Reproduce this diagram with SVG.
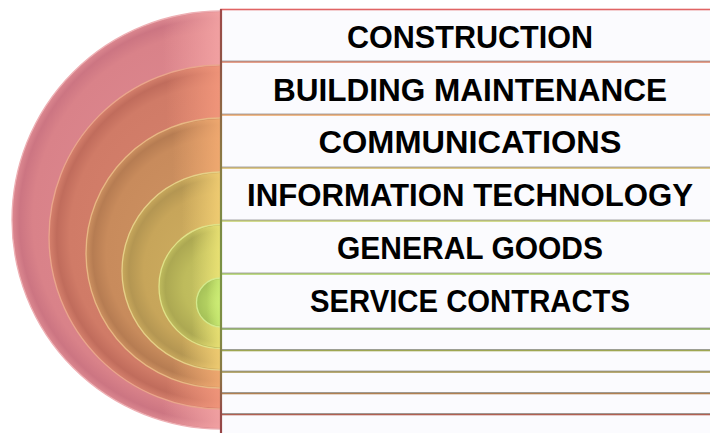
<svg xmlns="http://www.w3.org/2000/svg" width="710" height="433" viewBox="0 0 710 433">
<defs>
<style>
.row{fill:#fbfbfe;stroke-width:1.6}
.sh{stroke:#8e8e8e;stroke-width:1.2;opacity:.75}
.lbl{font-family:"Liberation Sans",Arial,sans-serif;font-weight:bold;font-size:32px;fill:#000;text-anchor:middle}
.disc{stroke-width:1.3}
</style>
<radialGradient id="g1"><stop offset="0" stop-color="#e08d96"/><stop offset="0.9" stop-color="#d98289"/><stop offset="0.965" stop-color="#cc7582"/><stop offset="1" stop-color="#dc8890"/></radialGradient>
<radialGradient id="g2"><stop offset="0" stop-color="#d88470"/><stop offset="0.88" stop-color="#d07b67"/><stop offset="0.955" stop-color="#c06c5c"/><stop offset="1" stop-color="#d5806c"/></radialGradient>
<radialGradient id="g3"><stop offset="0" stop-color="#d09464"/><stop offset="0.85" stop-color="#c88b5c"/><stop offset="0.95" stop-color="#b67c52"/><stop offset="1" stop-color="#cc9060"/></radialGradient>
<radialGradient id="g4"><stop offset="0" stop-color="#d0b062"/><stop offset="0.78" stop-color="#c7a55a"/><stop offset="0.93" stop-color="#b49652"/><stop offset="1" stop-color="#c8a85c"/></radialGradient>
<radialGradient id="g5"><stop offset="0" stop-color="#c8c466"/><stop offset="0.6" stop-color="#bebb5c"/><stop offset="0.9" stop-color="#aca852"/><stop offset="1" stop-color="#c0bc5e"/></radialGradient>
<radialGradient id="g6"><stop offset="0" stop-color="#c6e270"/><stop offset="0.6" stop-color="#b2cf60"/><stop offset="1" stop-color="#a4c058"/></radialGradient>
<linearGradient id="h1" x1="0" x2="1"><stop offset="0.36" stop-color="#f4a4a4" stop-opacity="0"/><stop offset="0.5" stop-color="#f4a4a4" stop-opacity="0.9"/></linearGradient>
<linearGradient id="h2" x1="0" x2="1"><stop offset="0.34" stop-color="#f4987c" stop-opacity="0"/><stop offset="0.5" stop-color="#f4987c" stop-opacity="0.9"/></linearGradient>
<linearGradient id="h3" x1="0" x2="1"><stop offset="0.32" stop-color="#f4ac72" stop-opacity="0"/><stop offset="0.5" stop-color="#f4ac72" stop-opacity="0.9"/></linearGradient>
<linearGradient id="h4" x1="0" x2="1"><stop offset="0.3" stop-color="#f4d074" stop-opacity="0"/><stop offset="0.5" stop-color="#f4d074" stop-opacity="0.9"/></linearGradient>
<linearGradient id="h5" x1="0" x2="1"><stop offset="0.26" stop-color="#eee676" stop-opacity="0"/><stop offset="0.5" stop-color="#eee676" stop-opacity="0.9"/></linearGradient>
<linearGradient id="h6" x1="0" x2="1"><stop offset="0.2" stop-color="#cef076" stop-opacity="0"/><stop offset="0.5" stop-color="#cef076" stop-opacity="0.9"/></linearGradient>
<linearGradient id="vline" gradientUnits="userSpaceOnUse" x1="0" y1="9" x2="0" y2="433">
<stop offset="0" stop-color="#a04a4a"/>
<stop offset="0.13" stop-color="#8e5444"/>
<stop offset="0.25" stop-color="#8e6a44"/>
<stop offset="0.37" stop-color="#8a7c44"/>
<stop offset="0.5" stop-color="#7c8a44"/>
<stop offset="0.63" stop-color="#7a9244"/>
<stop offset="0.75" stop-color="#7e8c44"/>
<stop offset="0.85" stop-color="#8a7a44"/>
<stop offset="0.95" stop-color="#944c48"/>
<stop offset="1" stop-color="#964446"/>
</linearGradient>
</defs>
<rect width="710" height="433" fill="#fff"/>
<g id="rings">
<g id="ring1"><circle class="disc" cx="221" cy="220" r="209" fill="url(#g1)" stroke="#eeb0b4"/><circle cx="221" cy="220" r="208" fill="url(#h1)"/></g>
<g id="ring2"><circle class="disc" cx="221" cy="237" r="172" fill="url(#g2)" stroke="#eaa68c"/><circle cx="221" cy="237" r="171" fill="url(#h2)"/></g>
<g id="ring3"><circle class="disc" cx="221" cy="253" r="135" fill="url(#g3)" stroke="#e8b884"/><circle cx="221" cy="253" r="134" fill="url(#h3)"/></g>
<g id="ring4"><circle class="disc" cx="221" cy="271" r="99" fill="url(#g4)" stroke="#e6d088"/><circle cx="221" cy="271" r="98" fill="url(#h4)"/></g>
<g id="ring5"><circle class="disc" cx="221" cy="286.5" r="62" fill="url(#g5)" stroke="#e0e288"/><circle cx="221" cy="286.5" r="61" fill="url(#h5)"/></g>
<g id="ring6"><circle class="disc" cx="221" cy="302.5" r="24.5" fill="url(#g6)" stroke="#d4ea8c"/><circle cx="221" cy="302.5" r="23.5" fill="url(#h6)"/></g>
</g>
<g id="rows">
<g id="row-construction"><rect class="row" x="221" y="9.5" width="520" height="52.5" stroke="#e06464"/><text class="lbl" x="470" y="48" textLength="246" lengthAdjust="spacingAndGlyphs">CONSTRUCTION</text></g>
<g id="row-building"><rect class="row" x="221" y="62" width="520" height="53" stroke="#e08a70"/><line class="sh" x1="221" y1="61" x2="741" y2="61"/><text class="lbl" x="470" y="100.7" textLength="394" lengthAdjust="spacingAndGlyphs">BUILDING MAINTENANCE</text></g>
<g id="row-communications"><rect class="row" x="221" y="115" width="520" height="53" stroke="#eeaa6c"/><line class="sh" x1="221" y1="114" x2="741" y2="114"/><text class="lbl" x="470" y="153.4" textLength="303" lengthAdjust="spacingAndGlyphs">COMMUNICATIONS</text></g>
<g id="row-it"><rect class="row" x="221" y="168" width="520" height="53" stroke="#d8c070"/><line class="sh" x1="221" y1="167" x2="741" y2="167"/><text class="lbl" x="470" y="206.3" textLength="446" lengthAdjust="spacingAndGlyphs">INFORMATION TECHNOLOGY</text></g>
<g id="row-general"><rect class="row" x="221" y="221" width="520" height="53" stroke="#c8d474"/><line class="sh" x1="221" y1="220" x2="741" y2="220"/><text class="lbl" x="470" y="259" textLength="266" lengthAdjust="spacingAndGlyphs">GENERAL GOODS</text></g>
<g id="row-service"><rect class="row" x="221" y="274" width="520" height="55" stroke="#b0d46a"/><line class="sh" x1="221" y1="273" x2="741" y2="273"/><text class="lbl" x="470" y="311.6" textLength="320" lengthAdjust="spacingAndGlyphs">SERVICE CONTRACTS</text></g>
<g id="row-7"><rect class="row" x="221" y="329" width="520" height="21.5" stroke="#8eb060"/><line class="sh" x1="221" y1="328" x2="741" y2="328"/></g>
<g id="row-8"><rect class="row" x="221" y="350.5" width="520" height="21.5" stroke="#9ea652"/><line class="sh" x1="221" y1="349.5" x2="741" y2="349.5"/></g>
<g id="row-9"><rect class="row" x="221" y="372" width="520" height="21.5" stroke="#a89650"/><line class="sh" x1="221" y1="371" x2="741" y2="371"/></g>
<g id="row-10"><rect class="row" x="221" y="393.5" width="520" height="21" stroke="#b08052"/><line class="sh" x1="221" y1="392.5" x2="741" y2="392.5"/></g>
<g id="row-11"><rect class="row" x="221" y="414.5" width="520" height="30" stroke="#b06052"/><line class="sh" x1="221" y1="413.5" x2="741" y2="413.5"/></g>
<line x1="221" y1="9" x2="221" y2="433" stroke="url(#vline)" stroke-width="2.2"/>
</g>
<g id="connectors"/>
</svg>
